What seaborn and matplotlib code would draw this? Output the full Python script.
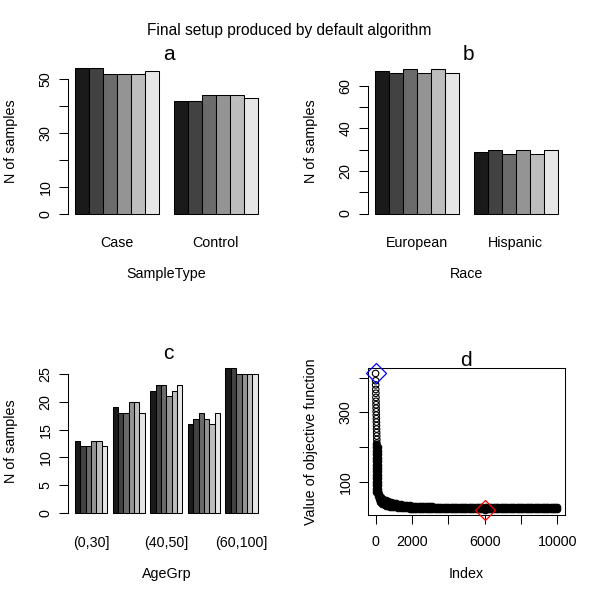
import numpy as np
import pandas as pd
import seaborn as sns
import matplotlib.pyplot as plt

# six candidate setups, counts per level
setups = ["1", "2", "3", "4", "5", "6"]
bar_grays = ["#1a1a1a", "#424242", "#6b6b6b", "#949494", "#bdbdbd", "#e6e6e6"]

sample_types = ["Case", "Control"]
case_n = [54, 54, 52, 52, 52, 53]
control_n = [42, 42, 44, 44, 44, 43]

races = ["European", "Hispanic"]
european_n = [67, 66, 68, 66, 68, 66]
hispanic_n = [29, 30, 28, 30, 28, 30]

age_groups = ["(0,30]", "(30,40]", "(40,50]", "(50,60]", "(60,100]"]
age_0_30 = [13, 12, 12, 13, 13, 12]
age_30_40 = [19, 18, 18, 20, 20, 18]
age_40_50 = [22, 23, 23, 21, 22, 23]
age_50_60 = [16, 17, 18, 17, 16, 18]
age_60_100 = [26, 26, 25, 25, 25, 25]

# objective function trace
# first iterations, where single circles can still be told apart
ring_index = [1, 4, 8, 12, 16, 20, 24, 28, 32, 36, 40, 44, 48, 52, 56, 60, 64, 68, 72]
ring_value = [412, 391, 379, 366, 355, 343, 332, 322, 312, 302, 292, 282, 272, 262,
              252, 242, 232, 222, 212]
# where thousands of circles pile up into a solid black mass
dense_index = [5, 5, 5, 5, 5, 5, 5, 5, 5, 5, 5, 5, 5, 5, 5,
               150, 150, 150, 150, 150, 150, 150, 150, 150, 150, 150, 150, 150, 150, 150,
               120, 180, 250, 350, 500, 600, 700, 800, 900,
               200, 280, 400, 566, 660, 750, 850, 950]
dense_value = [210, 200, 190, 180, 170, 160, 150, 140, 130, 120, 110, 100, 90, 80, 70,
               200, 190, 180, 170, 160, 150, 140, 130, 120, 110, 100, 90, 80, 75, 70,
               60, 50, 43, 37, 33, 31.5, 30, 29, 28,
               65, 57, 51, 47, 45, 43, 41.5, 40]
band_index = [1000, 1125, 1250, 1375, 1500, 1625, 1750, 1875,
              2000, 2125, 2250, 2375, 2500, 2625, 2750, 2875,
              3000, 3125, 3250, 3375, 3500, 3625, 3750, 3875,
              4000, 4125, 4250, 4375, 4500, 4625, 4750, 4875,
              5000, 5125, 5250, 5375, 5500, 5625, 5750, 5875,
              6000, 6125, 6250, 6375, 6500, 6625, 6750, 6875,
              7000, 7125, 7250, 7375, 7500, 7625, 7750, 7875,
              8000, 8125, 8250, 8375, 8500, 8625, 8750, 8875,
              9000, 9125, 9250, 9375, 9500, 9625, 9750, 9875, 10000]
band_upper = [39, 38, 37, 35.5, 34, 33.5, 33, 32.5,
              32, 31.5, 31, 31, 30.5, 30, 30, 30,
              29.5, 29.5, 29, 29, 29, 29, 28.5, 28.5,
              28.5, 28, 28, 28.5, 28, 28, 28, 28,
              28, 28, 28, 28, 28.5, 28, 28, 28,
              28, 28, 28, 28, 28, 28, 28.5, 28,
              28, 28, 28, 28, 28, 28, 28, 28,
              28, 28, 28.5, 28, 28, 28, 28, 28,
              28, 28, 28, 28, 28, 28, 28, 28, 28]
band_lower = [27, 26.5, 26, 25.5, 25, 24.5, 24, 23.5,
              23, 22.5, 22, 22, 22, 22, 22, 22,
              22, 22, 22, 22, 21.5, 21.5, 21.5, 21.5,
              21.5, 21.5, 21.5, 21.5, 21.5, 21.5, 21.5, 21.5,
              21.5, 21.5, 21.5, 21.5, 21.5, 21.5, 21.5, 21.5,
              20.5, 21, 21, 21, 21, 21, 21, 21,
              21, 21, 21, 21, 21, 21, 21, 21,
              21, 21, 21, 21, 21, 21, 21, 21,
              21, 21, 21, 21, 21, 21, 21, 21, 21]
start_point = (1, 412)
best_point = (6000, 20.5)

plt.rcParams["font.family"] = ["Liberation Sans", "DejaVu Sans"]
plt.rcParams["font.size"] = 10.3

W = H = 600.0
fig = plt.figure(figsize=(6, 6), dpi=100)


def px_axes(x0, y0, x1, y1):
    return fig.add_axes([x0 / W, 1 - y1 / H, (x1 - x0) / W, (y1 - y0) / H])


def px_text(x, y, s, **kw):
    fig.text(x / W, 1 - y / H, s, **kw)


def long_form(levels, columns):
    rows = []
    for lev, col in zip(levels, columns):
        for s, n in zip(setups, col):
            rows.append({"level": lev, "setup": s, "n": n})
    return pd.DataFrame(rows)


def rotate_yticklabels(ax):
    for lab in ax.get_yticklabels():
        lab.set_rotation(90)
        lab.set_va("center")


def bar_panel(ax, df, levels, yticks, ylabels, xlabels, xpad):
    sns.barplot(data=df, x="level", y="n", hue="setup", order=levels,
                hue_order=setups, palette=bar_grays, width=6 / 7, gap=0,
                saturation=1, edgecolor="black", linewidth=0.75,
                errorbar=None, legend=False, ax=ax)
    k = len(levels)
    span = (k - 1) + 6 / 7
    ax.set_xlim(-3 / 7 - 0.04 * span, k - 1 + 3 / 7 + 0.04 * span)
    top = max(df["n"])
    ax.set_ylim(-0.04 * top, 1.04 * top)
    for s in ["top", "right", "bottom"]:
        ax.spines[s].set_visible(False)
    ax.spines["left"].set_bounds(yticks[0], yticks[-1])
    ax.spines["left"].set_linewidth(0.75)
    ax.set_yticks(yticks)
    ax.set_yticklabels(ylabels)
    ax.set_xticks(range(k))
    ax.set_xticklabels(xlabels)
    ax.tick_params(axis="x", length=0, pad=xpad)
    ax.tick_params(axis="y", length=6.3, width=0.75, pad=4.6)
    rotate_yticklabels(ax)
    ax.set_xlabel("")
    ax.set_ylabel("")
    ax.patch.set_alpha(0)


# a
ax_a = px_axes(67.7, 62.6, 265.3, 219.6)
bar_panel(ax_a, long_form(sample_types, [case_n, control_n]), sample_types,
          [0, 10, 20, 30, 40, 50], ["0", "10", "", "30", "", "50"], sample_types, 11.7)
# b
ax_b = px_axes(367.7, 62.9, 565.3, 219.3)
bar_panel(ax_b, long_form(races, [european_n, hispanic_n]), races,
          [0, 10, 20, 30, 40, 50, 60], ["0", "", "20", "", "40", "", "60"], races, 11.7)
# c
ax_c = px_axes(67.7, 362.7, 265.0, 518.8)
bar_panel(ax_c, long_form(age_groups, [age_0_30, age_30_40, age_40_50, age_50_60, age_60_100]),
          age_groups, [0, 5, 10, 15, 20, 25], ["0", "5", "10", "15", "20", "25"],
          ["(0,30]", "", "(40,50]", "", "(60,100]"], 12.5)

# d
ax_d = px_axes(368.3, 368.0, 564.7, 515.0)
rings = pd.DataFrame({"index": ring_index, "value": ring_value})
dense = pd.DataFrame({"index": dense_index + band_index + band_index,
                      "value": dense_value + band_upper + band_lower})
sns.scatterplot(data=dense, x="index", y="value", marker="o", s=22,
                facecolors="black", edgecolor="black", linewidth=0.8, ax=ax_d)
sns.scatterplot(data=rings, x="index", y="value", marker="o", s=22,
                facecolors="none", edgecolor="black", linewidth=0.8, ax=ax_d)
ax_d.plot(*start_point, marker="D", ms=10, mfc="none", mec="blue", mew=0.9,
          ls="none", clip_on=False, zorder=5)
ax_d.plot(*best_point, marker="D", ms=10, mfc="none", mec="red", mew=0.9,
          ls="none", clip_on=False, zorder=5)
ax_d.set_xlim(1 - 0.04 * 9999, 10000 + 0.04 * 9999)
lo, hi = best_point[1], start_point[1]
ax_d.set_ylim(lo - 0.04 * (hi - lo), hi + 0.04 * (hi - lo))
ax_d.set_xticks([0, 2000, 4000, 6000, 8000, 10000])
ax_d.set_xticklabels(["0", "2000", "", "6000", "", "10000"])
ax_d.set_yticks([100, 200, 300, 400])
ax_d.set_yticklabels(["100", "", "300", ""])
ax_d.tick_params(axis="both", length=6.3, width=0.75)
ax_d.tick_params(axis="x", pad=8.2)
ax_d.tick_params(axis="y", pad=4.8)
rotate_yticklabels(ax_d)
for s in ax_d.spines.values():
    s.set_linewidth(0.75)
ax_d.set_xlabel("")
ax_d.set_ylabel("")

# titles and axis labels
px_text(289.5, 35.5, "Final setup produced by default algorithm", ha="center",
        va="baseline", fontsize=11.2)
for x, y, s in [(169, 60, "a"), (468, 60.5, "b"), (168, 359.3, "c"), (466, 365.7, "d")]:
    px_text(x, y, s, ha="center", va="baseline", fontsize=15)
for x, y, s in [(166.5, 278.5, "SampleType"), (466.5, 278.5, "Race"),
                (166.4, 578.3, "AgeGrp"), (466.5, 578.3, "Index")]:
    px_text(x, y, s, ha="center", va="baseline")
for x, y, s in [(14.5, 141.1, "N of samples"), (314.5, 141.1, "N of samples"),
                (14.5, 440.7, "N of samples"), (314.7, 441.5, "Value of objective function")]:
    px_text(x, y, s, ha="center", va="baseline", rotation=90, rotation_mode="anchor")

fig.savefig("out.png", dpi=100)
